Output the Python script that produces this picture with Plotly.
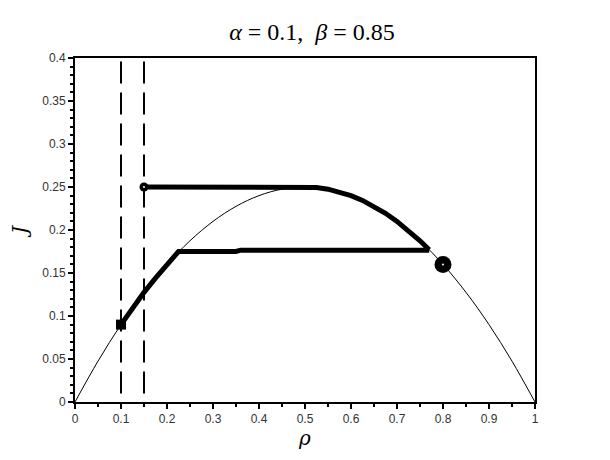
import plotly.graph_objects as go

# J(rho) curve at 0.05 steps
rho = [0, 0.05, 0.1, 0.15, 0.2, 0.25, 0.3, 0.35, 0.4, 0.45, 0.5,
       0.55, 0.6, 0.65, 0.7, 0.75, 0.8, 0.85, 0.9, 0.95, 1.0]
flux = [0, 0.0475, 0.09, 0.1275, 0.16, 0.1875, 0.21, 0.2275, 0.24, 0.2475, 0.25,
        0.2475, 0.24, 0.2275, 0.21, 0.1875, 0.16, 0.1275, 0.09, 0.0475, 0]

# lower thick path: along curve, then flat
low_x = [0.1, 0.125, 0.15, 0.175, 0.2, 0.225, 0.35, 0.36, 0.77]
low_y = [0.09, 0.109, 0.1275, 0.144, 0.16, 0.175, 0.175, 0.1765, 0.1765]

# upper thick path: flat, then along curve
up_x = [0.15, 0.5, 0.525, 0.55, 0.575, 0.6, 0.625, 0.65, 0.675, 0.7, 0.725, 0.75, 0.77]
up_y = [0.25, 0.25, 0.2494, 0.2475, 0.2444, 0.24, 0.2344, 0.2275, 0.2194, 0.21,
        0.1994, 0.1875, 0.1771]

alpha, beta = 0.1, 0.85
end_point = (0.8, 0.16)

fig = go.Figure()
for xv in (alpha, 0.15):
    fig.add_trace(go.Scatter(x=[xv, xv], y=[0.396, 0], mode="lines",
                             line=dict(color="black", width=2, dash="22px,9px"),
                             showlegend=False, hoverinfo="skip"))
fig.add_trace(go.Scatter(x=rho, y=flux, mode="lines",
                         line=dict(color="black", width=1, shape="spline"),
                         showlegend=False))
fig.add_trace(go.Scatter(x=low_x, y=low_y, mode="lines",
                         line=dict(color="black", width=5), showlegend=False))
fig.add_trace(go.Scatter(x=up_x, y=up_y, mode="lines",
                         line=dict(color="black", width=5), showlegend=False))
fig.add_trace(go.Scatter(x=[low_x[0]], y=[low_y[0]], mode="markers",
                         marker=dict(color="black", size=10, symbol="square"),
                         showlegend=False))
# circled points: black disc with a small white centre
for (px, py), sz in (((up_x[0], up_y[0]), 9), (end_point, 17)):
    fig.add_trace(go.Scatter(x=[px], y=[py], mode="markers",
                             marker=dict(color="black", size=sz, opacity=1),
                             showlegend=False))
    fig.add_trace(go.Scatter(x=[px], y=[py], mode="markers",
                             marker=dict(color="white", size=2, opacity=1),
                             showlegend=False, hoverinfo="skip"))

axis_common = dict(showline=True, linecolor="black", linewidth=2, mirror=True,
                   showgrid=False, zeroline=False, ticks="outside", ticklen=5,
                   tickwidth=2, tickcolor="black", automargin=False,
                   tickfont=dict(family="Liberation Sans", size=12, color="#333"))
fig.update_xaxes(range=[0, 1], tickvals=[i / 10 for i in range(11)],
                 ticktext=["0", "0.1", "0.2", "0.3", "0.4", "0.5", "0.6", "0.7", "0.8", "0.9", "1"],
                 minor=dict(dtick=0.05, ticks="outside", ticklen=3, tickwidth=2, tickcolor="black"),
                 title=dict(text="<i>ρ</i>", font=dict(family="DejaVu Serif", size=20, color="black"),
                            standoff=4),
                 **axis_common)
fig.update_yaxes(range=[0, 0.4], tickvals=[i * 0.05 for i in range(9)],
                 ticktext=["0", "0.05", "0.1", "0.15", "0.2", "0.25", "0.3", "0.35", "0.4"],
                 minor=dict(dtick=0.01, ticks="outside", ticklen=3, tickwidth=2, tickcolor="black"),
                 title=dict(text="<i>J</i>", font=dict(family="DejaVu Serif", size=20, color="black"),
                            standoff=10),
                 **axis_common)
fig.update_layout(
    width=602, height=452,
    margin=dict(l=67, r=75, t=50, b=58),
    plot_bgcolor="white", paper_bgcolor="white",
    title=dict(text=f"<i>α</i> = {alpha},  <i>β</i> = {beta}",
               x=0.505, xanchor="center", y=0.947, yanchor="middle", automargin=False,
               font=dict(family="Liberation Serif", size=24, color="black")),
)
fig.write_html("out.html")
